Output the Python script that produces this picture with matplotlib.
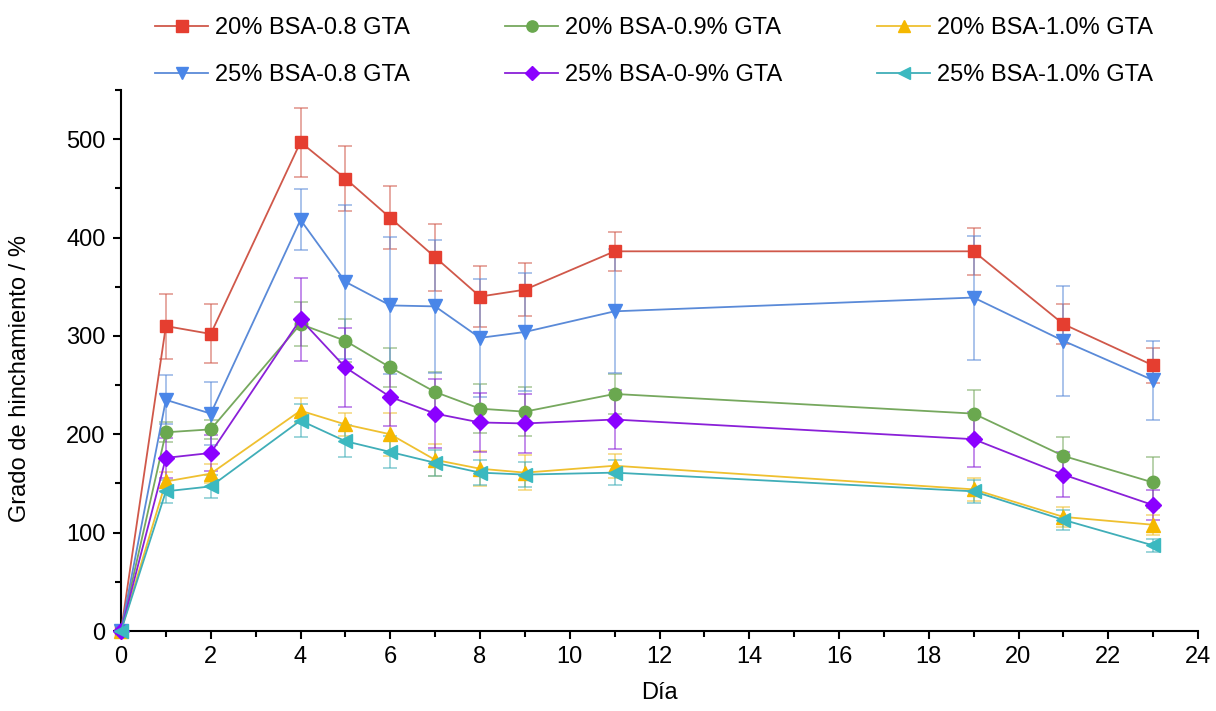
import matplotlib
matplotlib.use("Agg")
import matplotlib.pyplot as plt
from matplotlib.ticker import MultipleLocator

plt.rcParams['font.family'] = ['Liberation Sans', 'DejaVu Sans']

days = [0, 1, 2, 4, 5, 6, 7, 8, 9, 11, 19, 21, 23]

labels = ["20% BSA-0.8 GTA", "20% BSA-0.9% GTA", "20% BSA-1.0% GTA",
          "25% BSA-0.8 GTA", "25% BSA-0-9% GTA", "25% BSA-1.0% GTA"]

red_y   = [0, 310, 302, 497, 460, 420, 380, 340, 347, 386, 386, 312, 270]
red_e   = [0, 33, 30, 35, 33, 32, 34, 31, 27, 20, 24, 20, 18]
green_y = [0, 202, 205, 312, 295, 268, 243, 226, 223, 241, 221, 178, 151]
green_e = [0, 10, 10, 22, 22, 20, 20, 25, 25, 20, 24, 19, 26]
yellow_y = [0, 152, 160, 224, 210, 200, 174, 165, 161, 168, 144, 116, 108]
yellow_e = [0, 10, 10, 13, 12, 22, 16, 18, 18, 12, 12, 10, 10]
blue_y  = [0, 235, 221, 418, 355, 331, 330, 298, 304, 325, 339, 295, 255]
blue_e  = [0, 25, 32, 31, 78, 70, 68, 60, 60, 63, 63, 56, 40]
purple_y = [0, 176, 181, 317, 268, 238, 221, 212, 211, 215, 195, 159, 128]
purple_e = [0, 20, 18, 42, 40, 30, 35, 30, 30, 30, 28, 23, 15]
cyan_y  = [0, 142, 147, 214, 193, 182, 171, 161, 159, 161, 142, 113, 87]
cyan_e  = [0, 12, 12, 17, 16, 16, 13, 13, 13, 13, 12, 10, 7]

series = [
    (red_y, red_e, '#E53E30', '#D0584A', 's'),
    (green_y, green_e, '#6AA84F', '#76A85E', 'o'),
    (yellow_y, yellow_e, '#F5B800', '#EFC030', '^'),
    (blue_y, blue_e, '#4A86E8', '#5A8AD8', 'v'),
    (purple_y, purple_e, '#8B00FF', '#8A20D8', 'D'),
    (cyan_y, cyan_e, '#3BB9C0', '#40AEB8', '<'),
]

W, H = 1216, 711
fig = plt.figure(figsize=(W / 100, H / 100), dpi=100)
ax = fig.add_axes([121 / W, 1 - 631 / H, (1198 - 121) / W, (631 - 90) / H])

handles = []
for (y, e, mc, lc, m), lab in zip(series, labels):
    ax.errorbar(days, y, yerr=e, fmt='none', ecolor=lc, alpha=0.6,
                elinewidth=1.2, capsize=5, capthick=1.2, zorder=2,
                clip_on=False)
    ms = 9 if m in ('s', 'o') else (8 if m == 'D' else 10)
    h, = ax.plot(days, y, color=lc, lw=1.3, marker=m, markersize=ms,
                 markerfacecolor=mc, markeredgecolor=mc, label=lab, zorder=3,
                 clip_on=False)
    handles.append(h)

ax.set_xlim(0, 24)
ax.set_ylim(0, 550)
ax.xaxis.set_major_locator(MultipleLocator(2))
ax.xaxis.set_minor_locator(MultipleLocator(1))
ax.yaxis.set_major_locator(MultipleLocator(100))
ax.yaxis.set_minor_locator(MultipleLocator(50))
ax.spines['top'].set_visible(False)
ax.spines['right'].set_visible(False)
ax.spines['left'].set_linewidth(1.5)
ax.spines['bottom'].set_linewidth(1.5)
ax.tick_params(which='major', direction='out', length=6, width=1.5,
               labelsize=17, pad=5)
ax.tick_params(which='minor', direction='out', length=4, width=1.5)
ax.set_xlabel('Día', fontsize=17, labelpad=10)
ax.set_ylabel('Grado de hinchamiento / %', fontsize=17)
ax.yaxis.set_label_coords((31 - 121) / (1198 - 121), (631 - 378) / (631 - 90))

col_x = [155, 505, 877]
for c in range(3):
    idx = [c, c + 3]
    fig.legend(handles=[handles[i] for i in idx],
               labels=[labels[i] for i in idx],
               loc='upper left', bbox_to_anchor=(col_x[c] / W, 1 - 17 / H),
               ncol=1, frameon=False, fontsize=17, borderpad=0,
               borderaxespad=0, handlelength=2.25, handletextpad=0.3,
               labelspacing=1.05, markerscale=0.9)

fig.savefig('out.png', dpi=100)
